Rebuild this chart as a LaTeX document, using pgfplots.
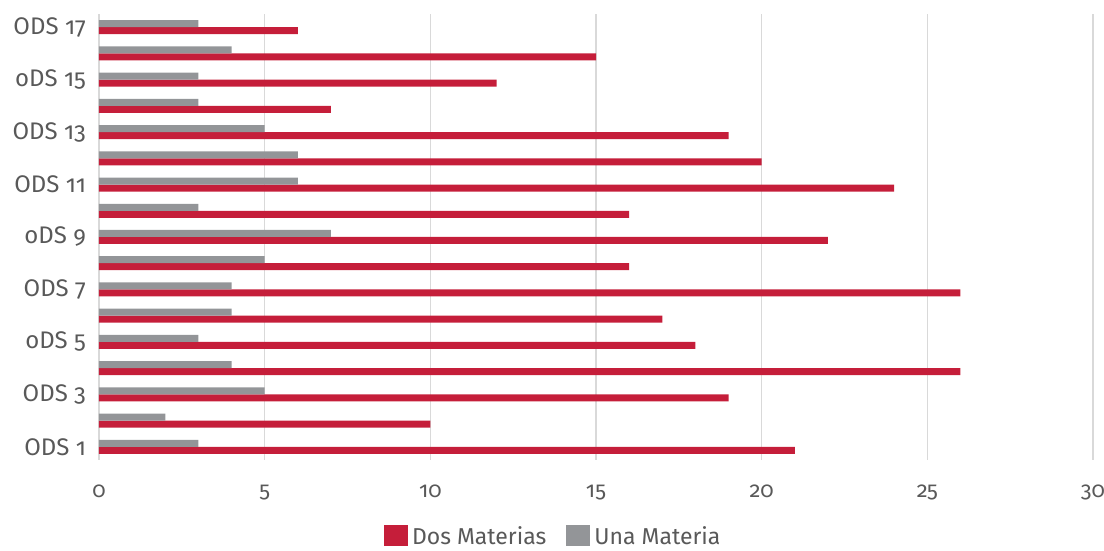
\documentclass[border=0pt]{standalone}
\usepackage{pgfplots}
\pgfplotsset{compat=1.18}
\usepackage{fontspec}
\setmainfont{Fira Sans}[Numbers=OldStyle]
\definecolor{redbar}{HTML}{C51E3A}
\definecolor{graybar}{HTML}{939598}
\definecolor{txt}{HTML}{595959}
\definecolor{gridc}{HTML}{D9D9D9}
\begin{document}
\begin{tikzpicture}
\path[use as bounding box] (-49.5pt,-45.5pt) rectangle (502.5pt,230pt);
\begin{axis}[
  at={(0,0)}, anchor=south west,
  scale only axis, width=497pt, height=223pt,
  xbar=0pt, bar width=3.5pt,
  xmin=0, xmax=30, ymin=0.5, ymax=17.5,
  axis line style={draw=none},
  tick style={draw=none},
  xmajorgrids, grid style={gridc, line width=0.6pt},
  xtick={0,5,...,30},
  ytick={1,3,5,7,9,11,13,15,17},
  yticklabels={ODS 1,ODS 3,oDS 5,ODS 7,oDS 9,ODS 11,ODS 13,oDS 15,ODS 17},
  major tick length=0pt,
  tick label style={text=txt},
  xticklabel style={font=\fontsize{11}{12}\selectfont, yshift=-9pt},
  yticklabel style={font=\fontsize{12}{13}\selectfont, xshift=-3pt},
  /pgf/number format/assume math mode=true,
  legend style={at={(0.458,-0.172)}, anchor=center, draw=none,
    font=\fontsize{11.5}{13}\selectfont, text=txt,
    legend columns=2, /tikz/every even column/.append style={column sep=8pt}},
  legend image code/.code={\fill[#1] (0pt,-4.5pt) rectangle (12pt,6pt);},
]
\addplot[fill=redbar, draw=none] coordinates {
(21,1) (10,2) (19,3) (26,4) (18,5) (17,6) (26,7) (16,8) (22,9)
(16,10) (24,11) (20,12) (19,13) (7,14) (12,15) (15,16) (6,17)};
\addplot[fill=graybar, draw=none] coordinates {
(3,1) (2,2) (5,3) (4,4) (3,5) (4,6) (4,7) (5,8) (7,9)
(3,10) (6,11) (6,12) (5,13) (3,14) (3,15) (4,16) (3,17)};
\legend{Dos Materias, Una Materia}
\end{axis}
\end{tikzpicture}
\end{document}
